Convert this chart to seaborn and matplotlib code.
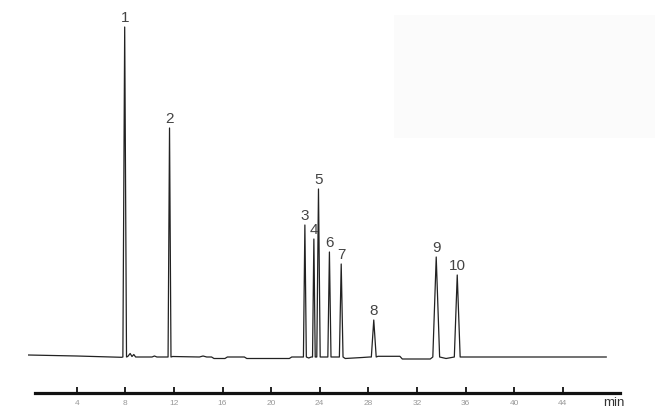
import numpy as np
import pandas as pd
import matplotlib
matplotlib.use("Agg")
import matplotlib.pyplot as plt
import seaborn as sns
from matplotlib.patches import Rectangle

# ---- data ----
peak_labels = ["1", "2", "3", "4", "5", "6", "7", "8", "9", "10"]
peak_times = [7.95, 11.64, 22.78, 23.52, 23.90, 24.80, 25.77, 28.45, 33.59, 35.32]
peak_heights = [330, 229, 132, 118, 168, 105, 93, 37, 100, 82]
peak_halfwidths = [0.15, 0.12, 0.12, 0.11, 0.14, 0.13, 0.15, 0.20, 0.28, 0.24]

baseline_times = [0.0, 4.0, 7.7, 8.2, 8.4, 8.55, 8.7, 8.85, 10.2, 10.4, 10.6,
                  11.4, 11.9, 14.1, 14.4, 14.7, 15.1, 15.3, 16.2, 16.4, 17.8,
                  18.0, 21.5, 21.7, 22.5, 23.1, 23.3, 24.4, 25.3, 26.1, 27.5,
                  28.1, 28.8, 30.6, 30.8, 33.1, 34.4, 35.8, 47.6]
baseline_signal = [2.0, 1.0, -0.3, 0.5, 3.5, 0.5, 2.5, 0.0, 0.0, 1.0, 0.0,
                   0.0, 0.5, 0.0, 1.0, 0.0, 0.0, -1.5, -1.5, 0.0, 0.0,
                   -1.5, -1.5, 0.0, 0.0, -1.0, 0.0, 0.0, 0.0, -1.5, -0.5,
                   0.0, 0.7, 0.7, -2.0, -2.0, -1.5, 0.0, 0.0]

tick_values = [4, 8, 12, 16, 20, 24, 28, 32, 36, 40, 44]
tick_labels = ["4", "8", "12", "16", "20", "24", "28", "32", "36", "40", "44"]
axis_unit = "min"

# ---- build the trace vertices from the data ----
ts = list(baseline_times)
ys = list(baseline_signal)
for t, h, w in zip(peak_times, peak_heights, peak_halfwidths):
    ts += [t - w, t, t + w]
    ys += [0.0, h, 0.0]
df = pd.DataFrame({"time": ts, "signal": ys}).sort_values("time").reset_index(drop=True)

# ---- figure ----
sns.set_style("white")
plt.rcParams["font.family"] = ["Liberation Sans", "DejaVu Sans"]

W, H = 655, 414
PX_PER_MIN = 12.15
X0 = 28.1  # pixel of t = 0

fig = plt.figure(figsize=(W / 100, H / 100), dpi=100)
fig.patch.set_facecolor("white")
fig.patches.append(Rectangle((394 / W, (H - 139) / H), 261 / W, 123 / H,
                             transform=fig.transFigure, facecolor="#fbfbfb",
                             edgecolor="none", zorder=0))

ax = fig.add_axes([X0 / W, 20 / H, (620 - X0) / W, 384 / H])
ax.set_facecolor("none")

sns.lineplot(data=df, x="time", y="signal", ax=ax, color="#222222",
             linewidth=0.9, estimator=None, sort=False)

for lab, t, h in zip(peak_labels, peak_times, peak_heights):
    ax.annotate(lab, xy=(t, h), xytext=(0, 4), textcoords="offset points",
                ha="center", va="baseline", fontsize=11, color="#444444")

xmax = (620 - X0) / PX_PER_MIN
ax.set_xlim(0, xmax)
ax.set_ylim(-36, 348)

for s in ["left", "right", "top"]:
    ax.spines[s].set_visible(False)
ax.spines["bottom"].set_linewidth(2.3)
ax.spines["bottom"].set_color("#111111")
ax.spines["bottom"].set_bounds((35 - X0) / PX_PER_MIN, xmax)

ax.set_yticks([])
ax.set_xticks(tick_values)
ax.set_xticklabels(tick_labels)
ax.tick_params(axis="x", bottom=True, direction="in", length=4, width=1.3,
               color="#111111", labelsize=6, labelcolor="#999999", pad=4)

ax.annotate(axis_unit, xy=(48.2, 0), xycoords=("data", "axes fraction"),
            xytext=(0, -6.6), textcoords="offset points", ha="center",
            va="center", fontsize=9.5, color="#333333", annotation_clip=False)

ax.set_xlabel("")
ax.set_ylabel("")

fig.savefig("out.png", dpi=100, facecolor="white")
